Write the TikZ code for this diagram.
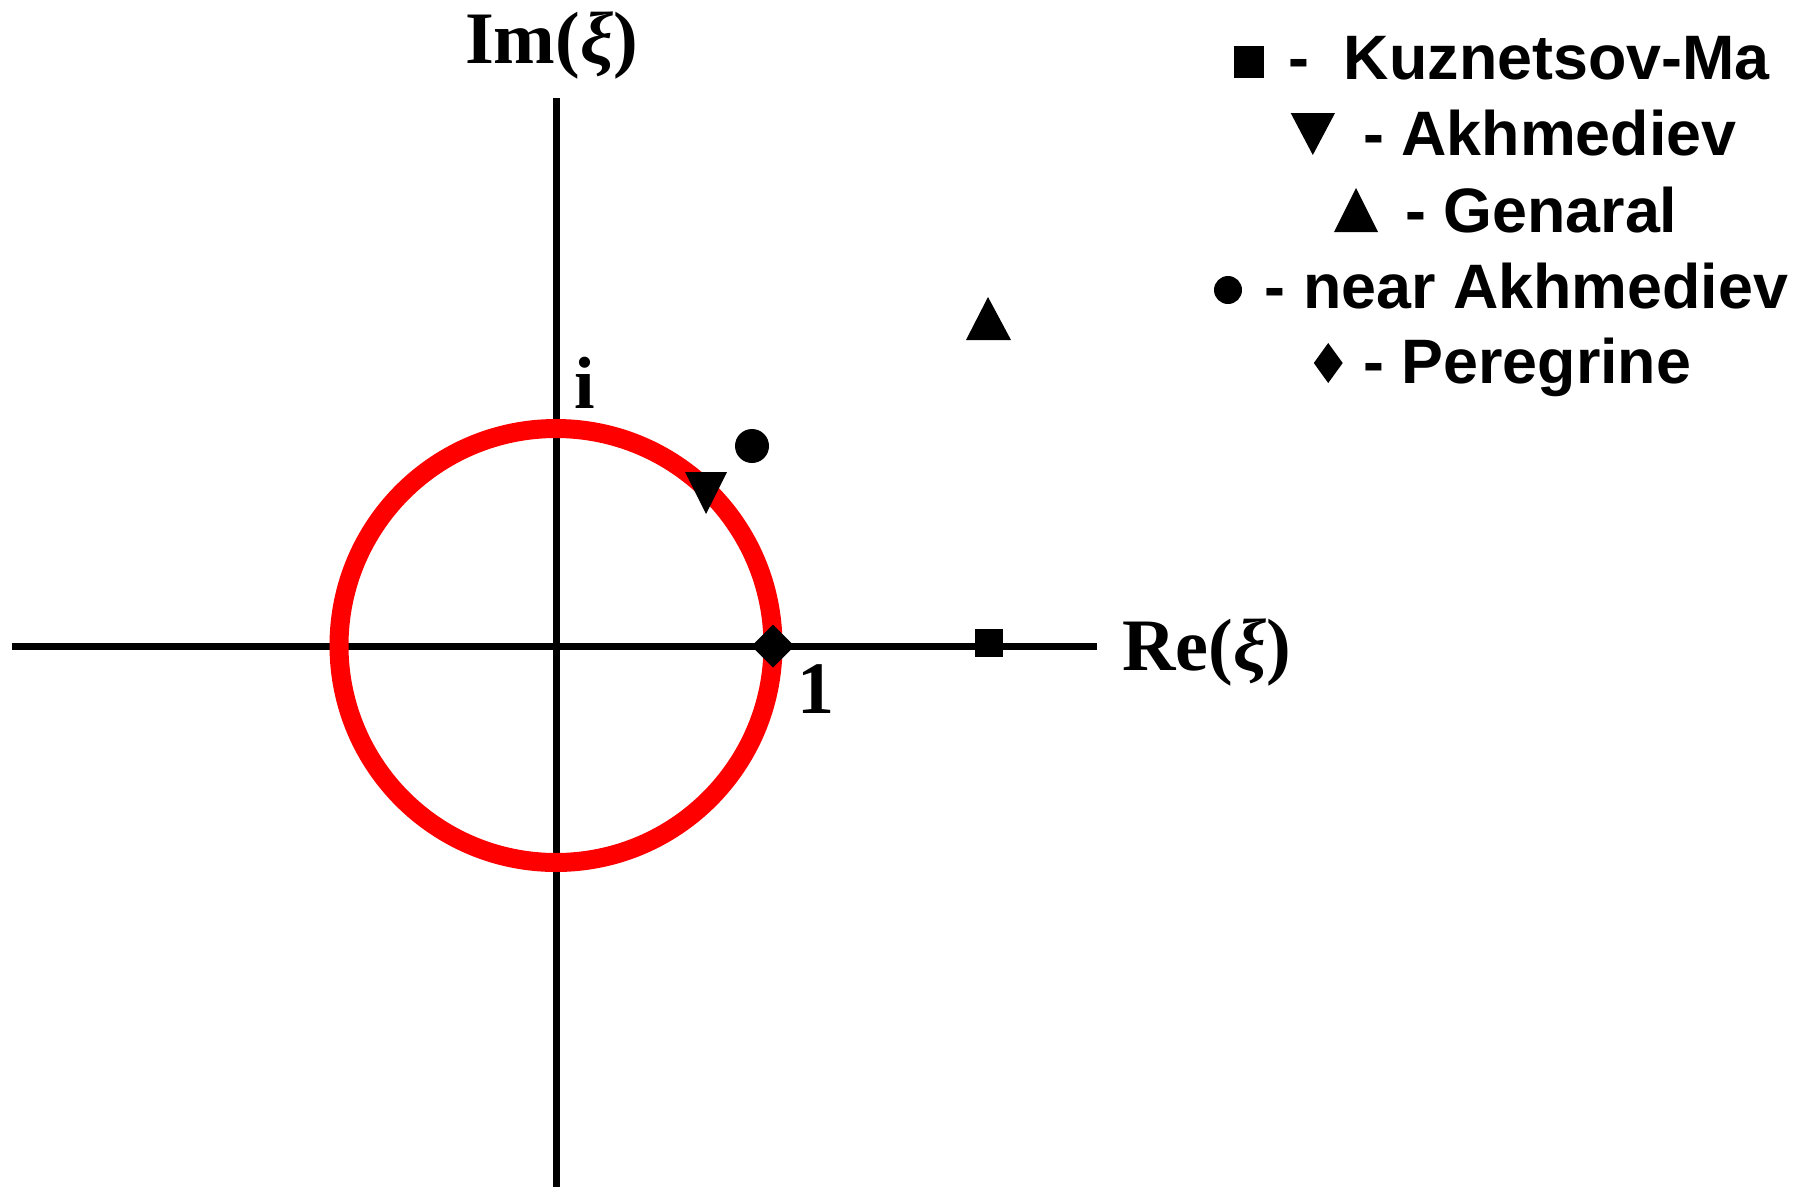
\documentclass[tikz,border=0pt]{standalone}
\usepackage{fontspec}
\setmainfont{Liberation Serif}
\newfontfamily\legendfont{Liberation Sans}
\tikzset{
  axis/.style={line width=7pt, black},
  unitcircle/.style={line width=19pt, color={rgb,255:red,255;green,0;blue,0}},
  marker/.style={fill=black, draw=none},
  serlabel/.style={inner sep=0pt, anchor=base, font=\fontsize{74}{80}\selectfont\bfseries},
  leglabel/.style={inner sep=0pt, anchor=base west, font=\legendfont\fontsize{62.8}{70}\selectfont\bfseries}
}
\begin{document}
\begin{tikzpicture}[x=1pt, y=-1pt]
\useasboundingbox (0,0) rectangle (1805,1187);
\fill[white] (0,0) rectangle (1805,1187);
% axes
\coordinate (xl) at (11.5,646);
\coordinate (xr) at (1097,646);
\coordinate (yt) at (556,98);
\coordinate (yb) at (556,1187);
\coordinate (o) at (556,645.5);
\draw[axis] (xl) -- (xr);
\draw[axis] (yt) -- (yb);
% unit circle
\draw[unitcircle] (o) circle[radius=217];
% plot markers
\fill[marker] (773,624.5) -- (794.5,646) -- (773,667.5) -- (751.5,646) -- cycle;
\fill[marker] (975,629) rectangle (1003,657);
\fill[marker] (988,297) -- (1011,340) -- (966,340) -- cycle;
\fill[marker] (685,472) -- (727,472) -- (706,514) -- cycle;
\fill[marker] (752,446) circle[radius=17];
% axis labels
\node[serlabel] (imlab) at (551.5,63) {Im(\textit{ξ})};
\node[serlabel] (relab) at (1206.5,670) {Re(\textit{ξ})};
\node[serlabel] (ilab) at (585,408) {i};
\node[serlabel] (onelab) at (816,713) {1};
% legend markers
\fill[marker] (1234,46) rectangle (1263.7,78);
\fill[marker] (1290.7,113) -- (1335,113) -- (1312.8,155) -- cycle;
\fill[marker] (1356,188) -- (1378,232) -- (1334,232) -- cycle;
\fill[marker] (1228,290) circle[radius=14];
\fill[marker] (1328.2,343) -- (1342.7,363) -- (1328.2,383) -- (1313.8,363) -- cycle;
% legend texts
\node[leglabel] (l1) at (1288,79) {-\ \ Kuznetsov-Ma};
\node[leglabel] (l2) at (1363,155) {- Akhmediev};
\node[leglabel] (l3) at (1405,232) {- Genaral};
\node[leglabel] (l4) at (1264.5,308) {- near Akhmediev};
\node[leglabel] (l5) at (1363,383) {- Peregrine};
\end{tikzpicture}
\end{document}
